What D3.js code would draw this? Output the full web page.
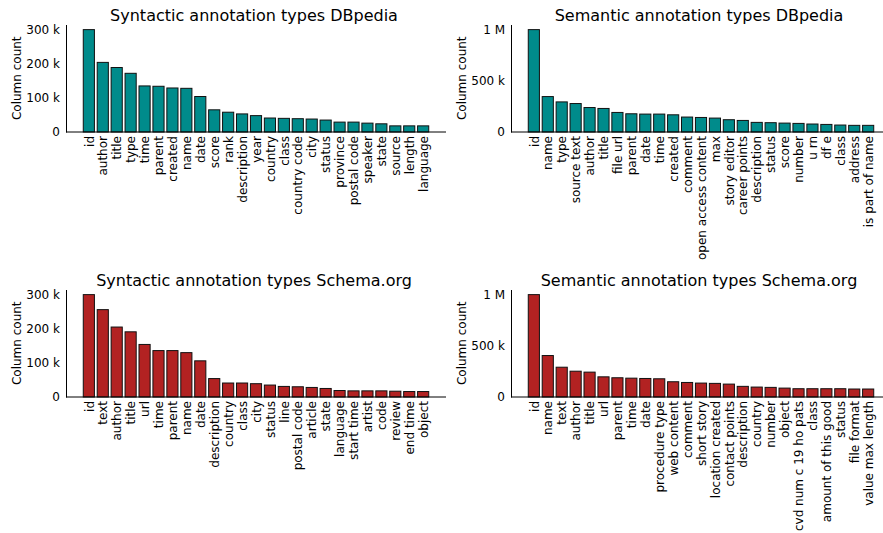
<!DOCTYPE html>
<html><head><meta charset="utf-8">
<script src="https://cdn.jsdelivr.net/npm/d3@7"></script>
<style>body{margin:0;background:#fff}svg{display:block}text{font-family:"DejaVu Sans",sans-serif;fill:#000}</style>
</head><body><svg id="c" width="883" height="533"></svg>
<script>
const synDbpCats = ["id","author","title","type","time","parent","created","name","date","score","rank","description","year","country","class","country code","city","status","province","postal code","speaker","state","source","length","language"];
const synDbpVals = [300000,204000,189000,172000,135000,134000,129000,128000,104000,65000,58000,53000,48000,41000,40000,39000,38000,35000,29000,29000,26000,24000,18000,18000,18000];

const semDbpCats = ["id","name","type","source text","author","title","file url","parent","date","time","created","comment","open access content","max","story editor","career points","description","status","score","number","u rn","df e","class","address","is part of name"];
const semDbpVals = [1000000,346000,294000,278000,239000,230000,191000,178000,175000,175000,168000,146000,142000,136000,120000,113000,94000,91000,87000,84000,78000,74000,68000,65000,65000];

const synSchCats = ["id","text","author","title","url","time","parent","name","date","description","country","class","city","status","line","postal code","article","state","language","start time","artist","code","review","end time","object"];
const synSchVals = [300000,256000,205000,191000,154000,136000,136000,130000,106000,54000,41000,41000,39000,35000,31000,30000,28000,25000,19000,18000,18000,18000,17000,16000,16000];

const semSchCats = ["id","name","text","author","title","url","parent","time","date","procedure type","web content","comment","short story","location created","contact points","description","country","number","object","cvd num c 19 ho pats","class","amount of this good","status","file format","value max length"];
const semSchVals = [1000000,405000,291000,252000,243000,197000,188000,184000,181000,178000,149000,142000,136000,133000,126000,104000,97000,94000,87000,81000,81000,81000,81000,78000,78000];

const synTicks = [0,100000,200000,300000];
const synTickLabels = ["0","100 k","200 k","300 k"];
const semTicks = [0,500000,1000000];
const semTickLabels = ["0","500 k","1 M"];

const titles = ["Syntactic annotation types DBpedia","Semantic annotation types DBpedia","Syntactic annotation types Schema.org","Semantic annotation types Schema.org"];

const svg = d3.select("#c");

function panel(x0, y0, w, h, cats, vals, ticks, tickLabels, title, color) {
  const g = svg.append("g").attr("transform", `translate(${x0},${y0})`);
  const n = cats.length;
  const span = (n - 1) + 0.8;
  const pad = span * 0.05;
  const xl = d3.scaleLinear().domain([-0.4 - pad, n - 1 + 0.4 + pad]).range([0, w]);
  const y = d3.scaleLinear().domain([0, d3.max(vals) * 1.05]).range([h, 0]);
  const bw = xl(0.8) - xl(0);
  g.selectAll("rect.bar").data(vals).enter().append("rect")
    .attr("x", (d, i) => xl(i - 0.4)).attr("y", d => y(d))
    .attr("width", bw).attr("height", d => h - y(d))
    .attr("fill", color).attr("stroke", "#111").attr("stroke-width", 1);
  const ya = d3.axisLeft(y).tickValues(ticks).tickFormat((d, i) => tickLabels[i]).tickSize(0).tickPadding(6);
  const yg = g.append("g").call(ya);
  yg.select(".domain").attr("stroke", "#000").attr("stroke-width", 1);
  yg.selectAll("text").style("font-size", "12px").style("font-family", "DejaVu Sans");
  const xa = d3.axisBottom(xl).tickValues(d3.range(n)).tickFormat(i => cats[i]).tickSize(0).tickPadding(0);
  const xg = g.append("g").attr("transform", `translate(0,${h})`).call(xa);
  xg.select(".domain").attr("d", `M0,0H${w}`).attr("stroke", "#000").attr("stroke-width", 1);
  xg.selectAll("text").style("font-size", "12px").style("font-family", "DejaVu Sans")
    .attr("transform", "rotate(-90)").attr("text-anchor", "end")
    .attr("x", -4).attr("y", 0).attr("dy", "0.35em");
  g.append("text").attr("transform", `translate(-45,${h / 2}) rotate(-90)`)
    .attr("text-anchor", "middle").style("font-size", "12px").text("Column count");
  g.append("text").attr("x", w / 2 - 2).attr("y", -4).attr("text-anchor", "middle")
    .style("font-size", "16px").text(title);
}

panel(66, 24.5, 380, 107.5, synDbpCats, synDbpVals, synTicks, synTickLabels, titles[0], "#008b8b");
panel(511, 24.5, 380, 107.5, semDbpCats, semDbpVals, semTicks, semTickLabels, titles[1], "#008b8b");
panel(66, 289.5, 380, 107.5, synSchCats, synSchVals, synTicks, synTickLabels, titles[2], "#b22222");
panel(511, 289.5, 380, 107.5, semSchCats, semSchVals, semTicks, semTickLabels, titles[3], "#b22222");
</script></body></html>
